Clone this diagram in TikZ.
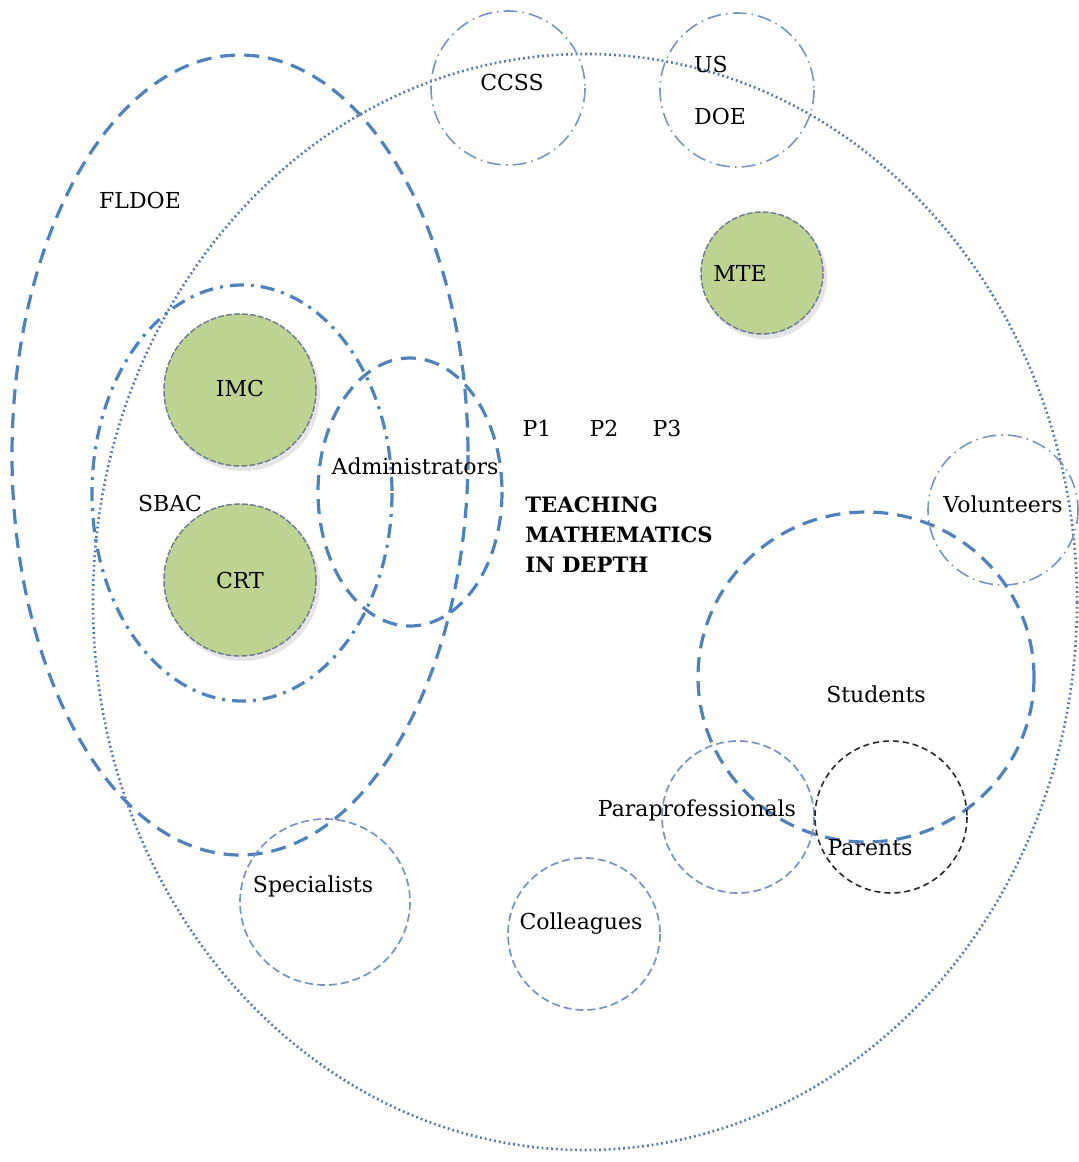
\documentclass[tikz,border=0pt]{standalone}
\usepackage{fontspec}
\setmainfont{DejaVu Serif}
\definecolor{lineblue}{RGB}{79,129,189}
\definecolor{softblue}{RGB}{120,148,190}
\definecolor{dotblue}{RGB}{86,116,168}
\definecolor{leafgreen}{RGB}{190,210,146}
\definecolor{discedge}{RGB}{104,122,146}
\definecolor{inkgray}{RGB}{40,40,40}
\tikzset{
  bigdash/.style={draw=lineblue, line width=1.6pt, dash pattern=on 7.5pt off 4.5pt},
  bigdashdot/.style={draw=lineblue, line width=1.6pt, dash pattern=on 7pt off 3.5pt on 1.5pt off 3.5pt},
  thindashdot/.style={draw=softblue, line width=0.8pt, dash pattern=on 7pt off 2.5pt on 0.8pt off 2.5pt},
  thindash/.style={draw=softblue, line width=0.85pt, dash pattern=on 4pt off 2pt},
  blackdash/.style={draw=inkgray, line width=0.8pt, dash pattern=on 3pt off 2pt},
  outerdots/.style={draw=dotblue, line width=1.3pt, dash pattern=on 0.9pt off 1.5pt},
  greendisc/.style={fill=leafgreen, draw=discedge, line width=0.7pt, dash pattern=on 3pt off 1pt},
  discshadow/.style={fill=black, opacity=0.10},
  lbl/.style={font=\fontsize{11}{13}\selectfont, text=black, inner sep=0pt},
  headline/.style={font=\fontsize{10.6}{15}\selectfont\bfseries, text=black, inner sep=0pt, align=left},
}
\begin{document}
\begin{tikzpicture}[x=0.5pt, y=-0.5pt]
  \useasboundingbox (0,0) rectangle (1078,1162);

  % outer dotted boundary
  \draw[outerdots] (585,602) ellipse [x radius=492, y radius=548];

  % state and national circles
  \draw[bigdash] (240,455) ellipse [x radius=228, y radius=400];
  \draw[thindashdot] (508,88) circle [radius=77];
  \draw[thindashdot] (737,90) circle [radius=77];

  % district assessment ring
  \draw[bigdashdot] (242,493) ellipse [x radius=150, y radius=208];

  % green core circles
  \fill[discshadow] (243,394) circle [radius=77];
  \filldraw[greendisc] (240,390) circle [radius=76];
  \fill[discshadow] (243,584) circle [radius=77];
  \filldraw[greendisc] (240,580) circle [radius=76];
  \fill[discshadow] (765,277) circle [radius=62];
  \filldraw[greendisc] (762,273) circle [radius=61];

  % administrators
  \draw[bigdash] (410,492) ellipse [x radius=92, y radius=134];

  % school community circles
  \draw[thindashdot] (1003,510) circle [radius=75];
  \draw[bigdash] (866,677) ellipse [x radius=168, y radius=165];
  \draw[thindash] (738,817) circle [radius=76];
  \draw[blackdash] (891,817) circle [radius=76];
  \draw[thindash] (325,902) ellipse [x radius=85, y radius=83];
  \draw[thindash] (584,934) circle [radius=76];

  % labels
  \node[lbl] (fldoe) at (140,200) {FLDOE};
  \node[lbl] (ccss) at (512,82) {CCSS};
  \node[lbl] (us) at (711,64) {US};
  \node[lbl] (doe) at (720,116) {DOE};
  \node[lbl] (mte) at (740,273) {MTE};
  \node[lbl] (imc) at (240,388) {IMC};
  \node[lbl] (sbac) at (170,503) {SBAC};
  \node[lbl] (crt) at (240,580) {CRT};
  \node[lbl] (admin) at (415,466) {Administrators};
  \node[lbl] (p1) at (537,428) {P1};
  \node[lbl] (p2) at (604,428) {P2};
  \node[lbl] (p3) at (667,428) {P3};
  \node[headline, anchor=west] (tmd) at (525,535) {TEACHING\\MATHEMATICS\\IN DEPTH};
  \node[lbl] (vol) at (1003,504) {Volunteers};
  \node[lbl] (stud) at (876,694) {Students};
  \node[lbl] (para) at (697,810) {Paraprofessionals};
  \node[lbl] (par) at (870,848) {Parents};
  \node[lbl] (spec) at (313,886) {Specialists};
  \node[lbl] (coll) at (581,924) {Colleagues};
\end{tikzpicture}
\end{document}
